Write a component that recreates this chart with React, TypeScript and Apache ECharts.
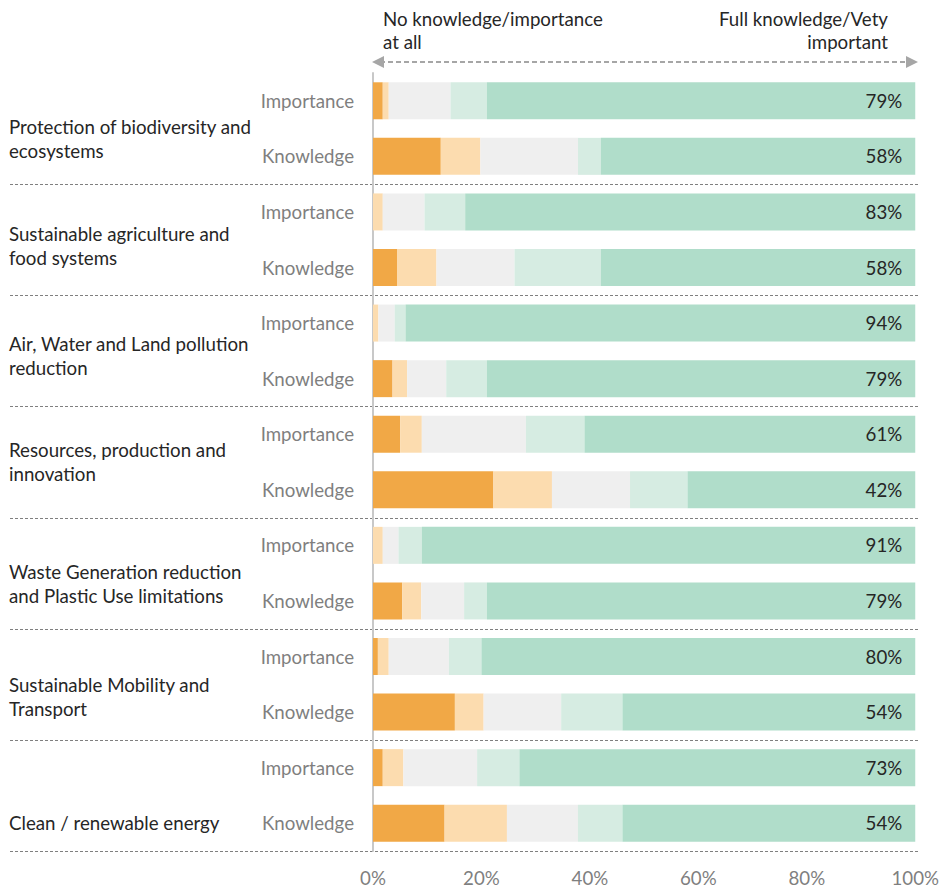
import React, { useEffect, useRef } from "react";
import * as echarts from "echarts";

const groups = [
  "Protection of biodiversity and\necosystems",
  "Sustainable agriculture and\nfood systems",
  "Air, Water and Land pollution\nreduction",
  "Resources, production and\ninnovation",
  "Waste Generation reduction\nand Plastic Use limitations",
  "Sustainable Mobility and\nTransport",
  "Clean / renewable energy",
];
const subLabels = ["Importance", "Knowledge"];

// order: per group Importance, Knowledge
const noneVals = [1.8, 12.5, 0, 4.5, 0, 3.6, 5.0, 22.2, 0, 5.4, 0.9, 15.1, 1.8, 13.2];
const lowVals = [1.1, 7.3, 1.8, 7.2, 1.0, 2.7, 4.0, 10.8, 1.8, 3.5, 2.0, 5.3, 3.8, 11.5];
const midVals = [11.4, 18.0, 7.7, 14.4, 3.0, 7.2, 19.2, 14.4, 2.9, 7.9, 11.1, 14.3, 13.6, 13.1];
const highVals = [6.7, 4.2, 7.5, 15.9, 2.0, 7.5, 10.8, 10.6, 4.3, 4.2, 6.0, 11.3, 7.8, 8.2];
const fullVals = [79, 58, 83, 58, 94, 79, 61, 42, 91, 79, 80, 54, 73, 54];

const xTicks = [0, 20, 40, 60, 80, 100];

const COLORS = ["#F1A846", "#FCDCAF", "#EFEFEF", "#D6ECE2", "#B0DDCA"];
const FONT = "Lato, 'Open Sans', sans-serif";
const FS = 18.7;

export default function App() {
  const ref = useRef<HTMLDivElement>(null);
  useEffect(() => {
    if (!ref.current) return;
    const chart = echarts.init(ref.current, undefined, { renderer: "svg" });
    const W = 942;
    const H = 888;
    const gridLeft = 373;
    const gridRight = 24;
    const gridTop = 73;
    const gridBottom = 37;
    const n = groups.length * 2;
    const band = (H - gridTop - gridBottom) / n;
    const cats: string[] = [];
    groups.forEach((g, gi) => subLabels.forEach((s) => cats.push(gi + "|" + s)));

    const graphics: any[] = [];
    for (let gi = 1; gi <= groups.length; gi++) {
      const y = Math.round(gridTop + gi * 2 * band) + 0.5;
      graphics.push({
        type: "line",
        shape: { x1: 10, y1: y, x2: W - gridRight, y2: y },
        style: { stroke: "#7F7F7F", lineWidth: 1, lineDash: [3, 2] },
        silent: true,
      });
    }
    const labelOffsets = [10, 6, 5, 0, 11, 13, 28];
    groups.forEach((g, gi) => {
      const mid = gridTop + (gi * 2 + 1) * band;
      graphics.push({
        type: "text",
        x: 9,
        y: mid + labelOffsets[gi],
        style: {
          text: g,
          font: `${FS}px ${FONT}`,
          fill: "#262626",
          textVerticalAlign: "middle",
          lineHeight: 24,
        },
      });
    });
    graphics.push({
      type: "text",
      x: 383,
      y: 7,
      style: { text: "No knowledge/importance\nat all", font: `${FS}px ${FONT}`, fill: "#262626", lineHeight: 23 },
    });
    graphics.push({
      type: "text",
      x: 888,
      y: 7,
      style: {
        text: "Full knowledge/Vety\nimportant",
        font: `${FS}px ${FONT}`,
        fill: "#262626",
        lineHeight: 23,
        textAlign: "right",
      },
    });
    graphics.push({
      type: "line",
      shape: { x1: 380, y1: 62, x2: 910, y2: 62 },
      style: { stroke: "#A6A6A6", lineWidth: 2, lineDash: [5, 3] },
    });
    graphics.push({
      type: "polygon",
      shape: { points: [[372, 62], [384, 56], [384, 68]] },
      style: { fill: "#A6A6A6" },
    });
    graphics.push({
      type: "polygon",
      shape: { points: [[918, 62], [906, 56], [906, 68]] },
      style: { fill: "#A6A6A6" },
    });

    const seriesData = [noneVals, lowVals, midVals, highVals, fullVals];
    const series = seriesData.map((vals, si) => ({
      type: "bar",
      stack: "total",
      barWidth: 37,
      data: vals,
      itemStyle: { color: COLORS[si] },
      silent: true,
      label:
        si === 4
          ? {
              show: true,
              position: "insideRight",
              distance: 13,
              formatter: (p: any) => p.value + "%",
              color: "#262626",
              fontSize: FS,
              fontFamily: FONT,
            }
          : { show: false },
    }));

    chart.setOption({
      animation: false,
      grid: { left: gridLeft, right: gridRight, top: gridTop, bottom: gridBottom, containLabel: false },
      xAxis: {
        type: "value",
        min: 0,
        max: 100,
        interval: 20,
        axisLine: { show: false },
        axisTick: { show: false },
        splitLine: { show: false },
        axisLabel: {
          formatter: (v: number) => (xTicks.includes(v) ? v + "%" : ""),
          color: "#7F7F7F",
          fontSize: FS,
          fontFamily: FONT,
          margin: 17,
        },
      },
      yAxis: {
        type: "category",
        inverse: true,
        data: cats,
        axisLine: { show: true, lineStyle: { color: "#C8C8C8", width: 2 } },
        axisTick: { show: false },
        axisLabel: {
          formatter: (v: string) => v.split("|")[1],
          color: "#7F7F7F",
          fontSize: FS,
          fontFamily: FONT,
          margin: 19,
        },
      },
      series,
      graphic: graphics,
    });
    return () => chart.dispose();
  }, []);
  return <div ref={ref} style={{ width: 942, height: 888, position: "absolute", left: 0, top: 0, background: "#fff" }} />;
}
